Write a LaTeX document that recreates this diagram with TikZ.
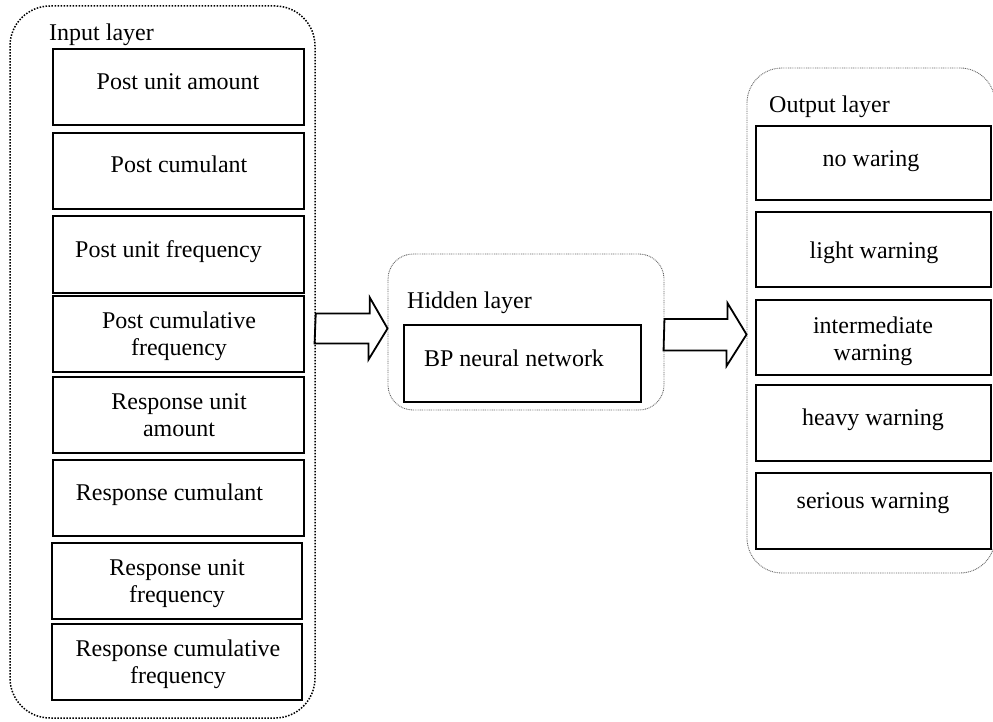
\documentclass[tikz,border=0pt]{standalone}
\usepackage{fontspec}
\setmainfont{Liberation Serif}
\usetikzlibrary{fit,calc}
\newcommand\lnst{\rule[-6pt]{0pt}{23pt}}
\begin{document}
\begin{tikzpicture}[x=1pt,y=-1pt,
  every node/.style={font=\fontsize{24}{27}\selectfont},
  box/.style={draw=black, line width=1.8pt, inner sep=0pt},
  txt/.style={align=center, inner sep=0pt},
  lbl/.style={anchor=base west, inner sep=0pt},
  contk/.style={draw=black, line width=1.5pt, dash pattern=on 1.5pt off 1.5pt, inner sep=0pt},
  contg/.style={draw=black!60, line width=0.9pt, dash pattern=on 0.9pt off 0.9pt, inner sep=0pt},
  blk/.style={draw=black, line width=1.8pt, line join=miter}]
\useasboundingbox (0,0) rectangle (993,722);

% containers
\node[contk, rounded corners=40pt, fit={(10,6) (315,718)}] (inp) {};
\node[contg, rounded corners=25pt, fit={(388,254) (664,410)}] (hid) {};
\node[contg, rounded corners=35pt, fit={(747,68) (995,573)}] (out) {};

% layer labels
\node[lbl] (linp) at (49,41) {Input layer};
\node[lbl] (lhid) at (407,308) {Hidden layer};
\node[lbl] (lout) at (769,113) {Output layer};

% input boxes
\node[box, fit={(53,49) (304,125)}] (i1) {};
\node[box, fit={(53,133) (304,209)}] (i2) {};
\node[box, fit={(53,216) (304,293)}] (i3) {};
\node[box, fit={(53,296) (304,372)}] (i4) {};
\node[box, fit={(53,377) (304,453)}] (i5) {};
\node[box, fit={(53,460) (304,536)}] (i6) {};
\node[box, fit={(52,543) (302,619)}] (i7) {};
\node[box, fit={(52,624) (302,700)}] (i8) {};

\node[txt] (ti1) at (178,84.5) {Post unit amount\lnst};
\node[txt] (ti2) at (179,167.5) {Post cumulant\lnst};
\node[txt] (ti3) at (168.5,251.5) {Post unit frequency\lnst};
\node[txt] (ti4) at (179,336) {Post cumulative\lnst\\frequency\lnst};
\node[txt] (ti5) at (179,417) {Response unit\lnst\\amount\lnst};
\node[txt] (ti6) at (169.5,494.5) {Response cumulant\lnst};
\node[txt] (ti7) at (177,583.5) {Response unit\lnst\\frequency\lnst};
\node[txt] (ti8) at (178,664.5) {Response cumulative\lnst\\frequency\lnst};

% hidden box
\node[box, fit={(404,325) (641,402)}] (bp) {};
\node[txt] (tbp) at (514,360.5) {BP neural network\lnst};

% output boxes
\node[box, fit={(756,126) (991,200)}] (o1) {};
\node[box, fit={(756,212) (991,287)}] (o2) {};
\node[box, fit={(756,300) (991,375)}] (o3) {};
\node[box, fit={(756,385) (991,461)}] (o4) {};
\node[box, fit={(756,473) (991,549)}] (o5) {};

\node[txt] (to1) at (871,161.5) {no waring\lnst};
\node[txt] (to2) at (874,253) {light warning\lnst};
\node[txt] (to3) at (873,341) {intermediate\lnst\\warning\lnst};
\node[txt] (to4) at (873,420) {heavy warning\lnst};
\node[txt] (to5) at (873,503) {serious warning\lnst};

% block arrows
\coordinate (a1s) at (inp.east |- 0,328.5);
\coordinate (a1t) at (hid.west |- a1s);
\draw[blk] (a1s) ++(0,-15) -- ++(54,0) -- ++(0,-16) -- (a1t) -- ++(-19,31) -- ++(0,-16) -- ++(-54,0) -- cycle;

\coordinate (a2s) at (hid.east |- 0,334.5);
\coordinate (a2t) at (out.west |- a2s);
\draw[blk] (a2s) ++(0,-15.5) -- ++(63,0) -- ++(0,-16) -- (a2t) -- ++(-20,31.5) -- ++(0,-15.5) -- ++(-63,0) -- cycle;
\end{tikzpicture}
\end{document}
